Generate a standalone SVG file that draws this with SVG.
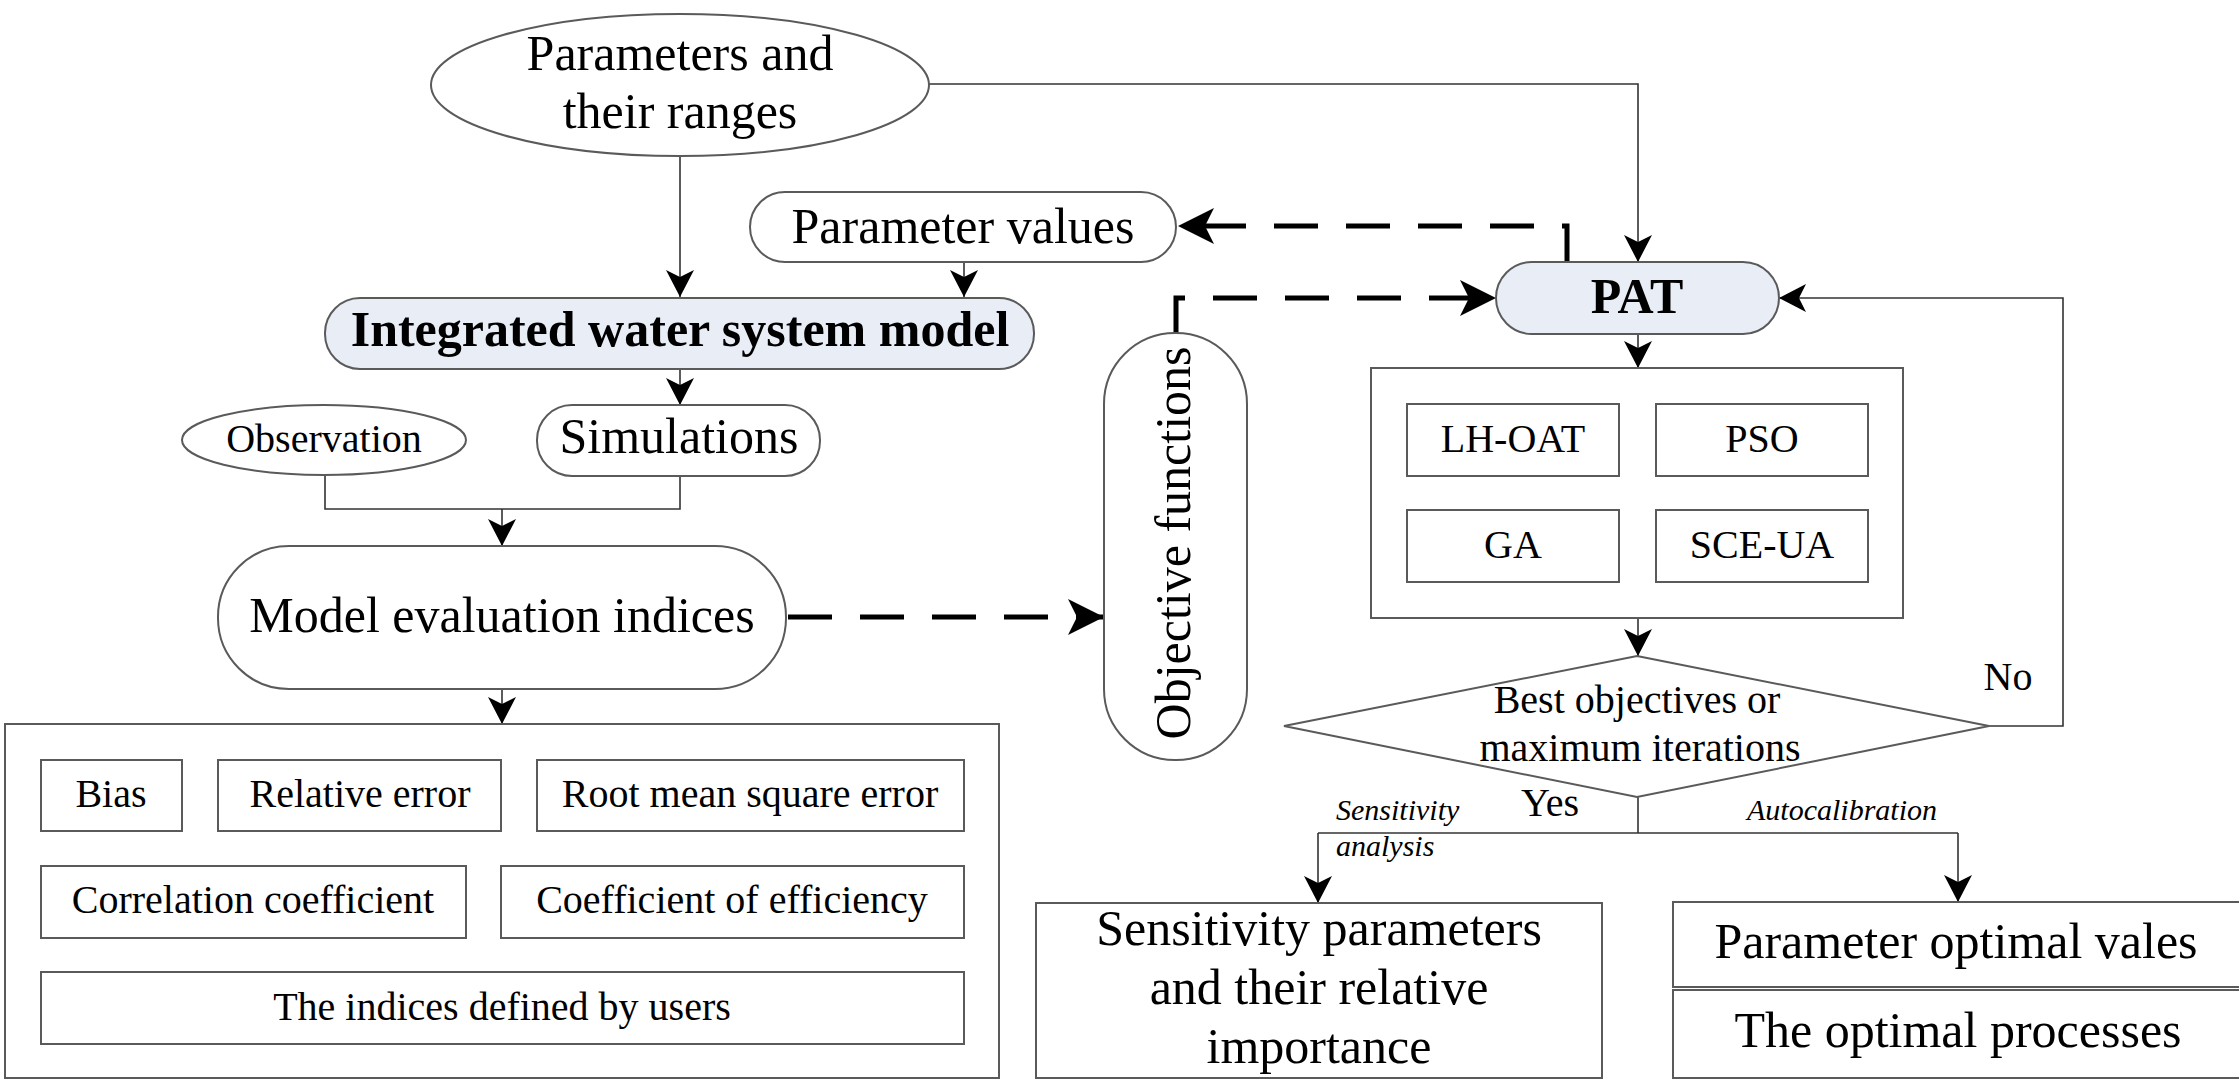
<svg xmlns="http://www.w3.org/2000/svg" width="2239" height="1081" viewBox="0 0 2239 1081">
<style>
.n{fill:#fff;stroke:#5a5a5a;stroke-width:2}
.hl{fill:#e8edf6;stroke:#5a5a5a;stroke-width:2}
.t{font-family:"Liberation Serif","Times New Roman",serif;fill:#000;text-anchor:middle}
.b{font-weight:bold}
.s50{font-size:50px}
.s40{font-size:40px}
.it{font-style:italic;font-size:30px;text-anchor:start}
.c{fill:none;stroke:#333;stroke-width:1.6}
.d{fill:none;stroke:#000;stroke-width:5;stroke-dasharray:44 28}
</style>
<defs>
<marker id="a" markerUnits="userSpaceOnUse" markerWidth="28" markerHeight="28" refX="27" refY="14" orient="auto">
<path d="M0,0 L27,14 L0,28 L7,14 Z" fill="#000"/>
</marker>
<marker id="ad" markerUnits="userSpaceOnUse" markerWidth="38" markerHeight="38" refX="36" refY="18" orient="auto">
<path d="M0,0 L36,18 L0,36 L9,18 Z" fill="#000"/>
</marker>
</defs>
<rect width="2239" height="1081" fill="#fff"/>
<g id="connectors">
<path class="c" d="M680,156 V297" marker-end="url(#a)"/>
<path class="c" d="M929,84 H1638 V262" marker-end="url(#a)"/>
<path class="c" d="M964,262 V297" marker-end="url(#a)"/>
<path class="c" d="M680,369 V405" marker-end="url(#a)"/>
<path class="c" d="M325,475 V509 H680 V476"/>
<path class="c" d="M502,509 V546" marker-end="url(#a)"/>
<path class="c" d="M502,689 V724" marker-end="url(#a)"/>
<path class="d" d="M788,617 H1104" marker-end="url(#ad)"/>
<path class="d" d="M1567,265 V226 H1178" marker-end="url(#ad)"/>
<path class="d" d="M1176,333 V298 H1496" marker-end="url(#ad)"/>
<path class="c" d="M1638,334 V368" marker-end="url(#a)"/>
<path class="c" d="M1638,618 V656" marker-end="url(#a)"/>
<path class="c" d="M1989,726 H2063 V298 H1779" marker-end="url(#a)"/>
<path class="c" d="M1638,797 V833"/>
<path class="c" d="M1318,833 H1958"/>
<path class="c" d="M1318,833 V903" marker-end="url(#a)"/>
<path class="c" d="M1958,833 V902" marker-end="url(#a)"/>
<text class="t s40" x="2008" y="690">No</text>
<text class="t s40" x="1550" y="816">Yes</text>
<text class="t it" x="1336" y="820">Sensitivity</text>
<text class="t it" x="1336" y="856">analysis</text>
<text class="t it" x="1747" y="820">Autocalibration</text>
</g>
<g id="params-ranges">
<ellipse class="n" cx="680" cy="85" rx="249" ry="71"/>
<text class="t s50" x="680" y="70">Parameters and</text>
<text class="t s50" x="680" y="128">their ranges</text>
</g>
<g id="param-values">
<rect class="n" x="750" y="192" width="426" height="70" rx="35"/>
<text class="t s50" x="963" y="243">Parameter values</text>
</g>
<g id="model">
<rect class="hl" x="325" y="298" width="709" height="71" rx="35"/>
<text class="t s50 b" x="680" y="346">Integrated water system model</text>
</g>
<g id="observation">
<ellipse class="n" cx="324" cy="440" rx="142" ry="35"/>
<text class="t s40" x="324" y="452">Observation</text>
</g>
<g id="simulations">
<rect class="n" x="537" y="405" width="283" height="71" rx="35"/>
<text class="t s50" x="679" y="453">Simulations</text>
</g>
<g id="evaluation">
<rect class="n" x="218" y="546" width="568" height="143" rx="71"/>
<text class="t s50" x="502" y="632">Model evaluation indices</text>
</g>
<g id="indices">
<rect class="n" x="5" y="724" width="994" height="354"/>
<rect class="n" x="41" y="760" width="141" height="71"/>
<text class="t s40" x="111" y="807">Bias</text>
<rect class="n" x="218" y="760" width="283" height="71"/>
<text class="t s40" x="360" y="807">Relative error</text>
<rect class="n" x="537" y="760" width="427" height="71"/>
<text class="t s40" x="750" y="807">Root mean square error</text>
<rect class="n" x="41" y="866" width="425" height="72"/>
<text class="t s40" x="253" y="913">Correlation coefficient</text>
<rect class="n" x="501" y="866" width="463" height="72"/>
<text class="t s40" x="732" y="913">Coefficient of efficiency</text>
<rect class="n" x="41" y="972" width="923" height="72"/>
<text class="t s40" x="502" y="1020">The indices defined by users</text>
</g>
<g id="objective">
<rect class="n" x="1104" y="333" width="143" height="427" rx="71"/>
<text class="t s50" transform="translate(1190,543) rotate(-90)" x="0" y="0">Objective functions</text>
</g>
<g id="pat">
<rect class="hl" x="1496" y="262" width="283" height="72" rx="36"/>
<text class="t s50 b" x="1637" y="313">PAT</text>
</g>
<g id="algorithms">
<rect class="n" x="1371" y="368" width="532" height="250"/>
<rect class="n" x="1407" y="404" width="212" height="72"/>
<text class="t s40" x="1513" y="452">LH-OAT</text>
<rect class="n" x="1656" y="404" width="212" height="72"/>
<text class="t s40" x="1762" y="452">PSO</text>
<rect class="n" x="1407" y="510" width="212" height="72"/>
<text class="t s40" x="1513" y="558">GA</text>
<rect class="n" x="1656" y="510" width="212" height="72"/>
<text class="t s40" x="1762" y="558">SCE-UA</text>
</g>
<g id="decision">
<polygon class="n" points="1637,656 1989,726 1637,797 1284,726"/>
<text class="t s40" x="1637" y="713">Best objectives or</text>
<text class="t s40" x="1640" y="761">maximum iterations</text>
</g>
<g id="sensitivity">
<rect class="n" x="1036" y="903" width="566" height="175"/>
<text class="t s50" x="1319" y="945">Sensitivity parameters</text>
<text class="t s50" x="1319" y="1004">and their relative</text>
<text class="t s50" x="1319" y="1063">importance</text>
</g>
<g id="optimal-values">
<rect class="n" x="1673" y="902" width="580" height="85"/>
<text class="t s50" x="1956" y="958">Parameter optimal vales</text>
</g>
<g id="optimal-processes">
<rect class="n" x="1673" y="990" width="580" height="88"/>
<text class="t s50" x="1958" y="1047">The optimal processes</text>
</g>
</svg>
